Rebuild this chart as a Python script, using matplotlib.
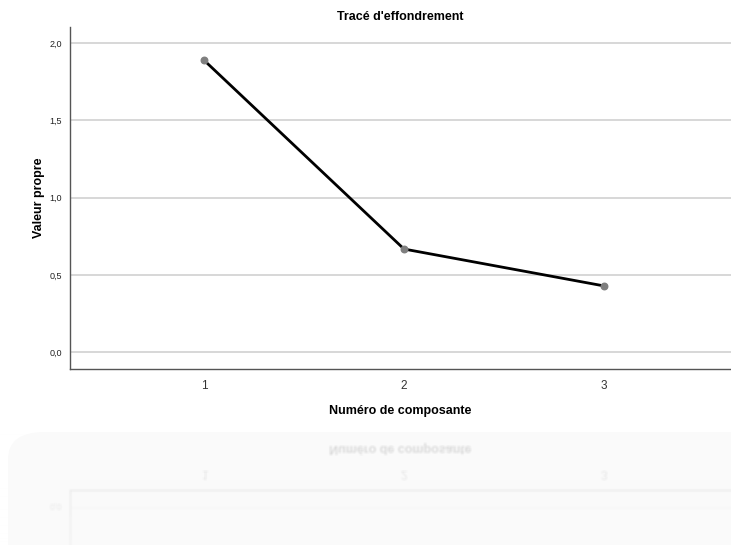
import numpy as np
import matplotlib
matplotlib.use("Agg")
import matplotlib.pyplot as plt
from matplotlib.patches import FancyBboxPatch

plt.rcParams['font.family'] = ['Liberation Sans', 'DejaVu Sans']

composantes = [1, 2, 3]
valeurs_propres = [1.89, 0.667, 0.428]
yticks = [0.0, 0.5, 1.0, 1.5, 2.0]
ytick_labels = ['0,0', '0,5', '1,0', '1,5', '2,0']

W, H = 731, 545
fig = plt.figure(figsize=(W / 100, H / 100), dpi=100)
ax = fig.add_axes([70 / W, 1 - 369 / H, 1 - 70 / W, (369 - 27) / H])

ax.plot(composantes, valeurs_propres, color='black', lw=2, zorder=3)
ax.scatter(composantes, valeurs_propres, s=22, color='#7f7f7f', zorder=4)

ax.set_xlim(0.33, 3.635)
ax.set_ylim(-0.11, 2.105)
ax.set_xticks(composantes)
ax.set_xticklabels([str(c) for c in composantes], fontsize=8.5, color='#333333')
ax.set_yticks(yticks)
ax.set_yticklabels(ytick_labels, fontsize=6.5, color='#222222')
ax.tick_params(length=0, pad=8, axis='x')
ax.tick_params(length=0, pad=6, axis='y')
ax.yaxis.grid(True, color='#d4d4d4', lw=1.3)
ax.set_axisbelow(True)
for s in ['top', 'right']:
    ax.spines[s].set_visible(False)
for s in ['left', 'bottom']:
    ax.spines[s].set_color('#555555')
    ax.spines[s].set_linewidth(1)

ax.set_xlabel('Numéro de composante', fontsize=9, fontweight='bold', labelpad=9)
ax.set_ylabel('Valeur propre', fontsize=9, fontweight='bold', labelpad=3)
ax.set_title("Tracé d'effondrement", fontsize=9, fontweight='bold', pad=5)

# faint rounded panel under the chart
fig.patches.append(FancyBboxPatch((8 / W, -0.1), (W + 40) / W, (545 - 432) / H + 0.1,
                                  boxstyle='round,pad=0,rounding_size=0.05',
                                  transform=fig.transFigure, facecolor='#fafafa',
                                  edgecolor='none', zorder=-5))

# mirrored reflection of the lower part of the chart
fig.canvas.draw()
buf = np.asarray(fig.canvas.buffer_rgba())[:, :, :3].astype(float)
axis_row = 430
n = H - axis_row
src = buf[axis_row - n:axis_row][::-1]
# light blur
pad = np.pad(src, ((1, 1), (1, 1), (0, 0)), mode='edge')
src = sum(pad[i:i + n, j:j + W] for i in range(3) for j in range(3)) / 9
base = buf[axis_row:H]
alpha = np.linspace(0.14, 0.06, n)[:, None, None]
refl = base * (1 - alpha) + src * alpha
refl = np.clip(refl, 0, 255).astype(np.uint8)
fig.figimage(refl, xo=0, yo=0, origin='upper', zorder=10)

fig.savefig('out.png', dpi=100)
